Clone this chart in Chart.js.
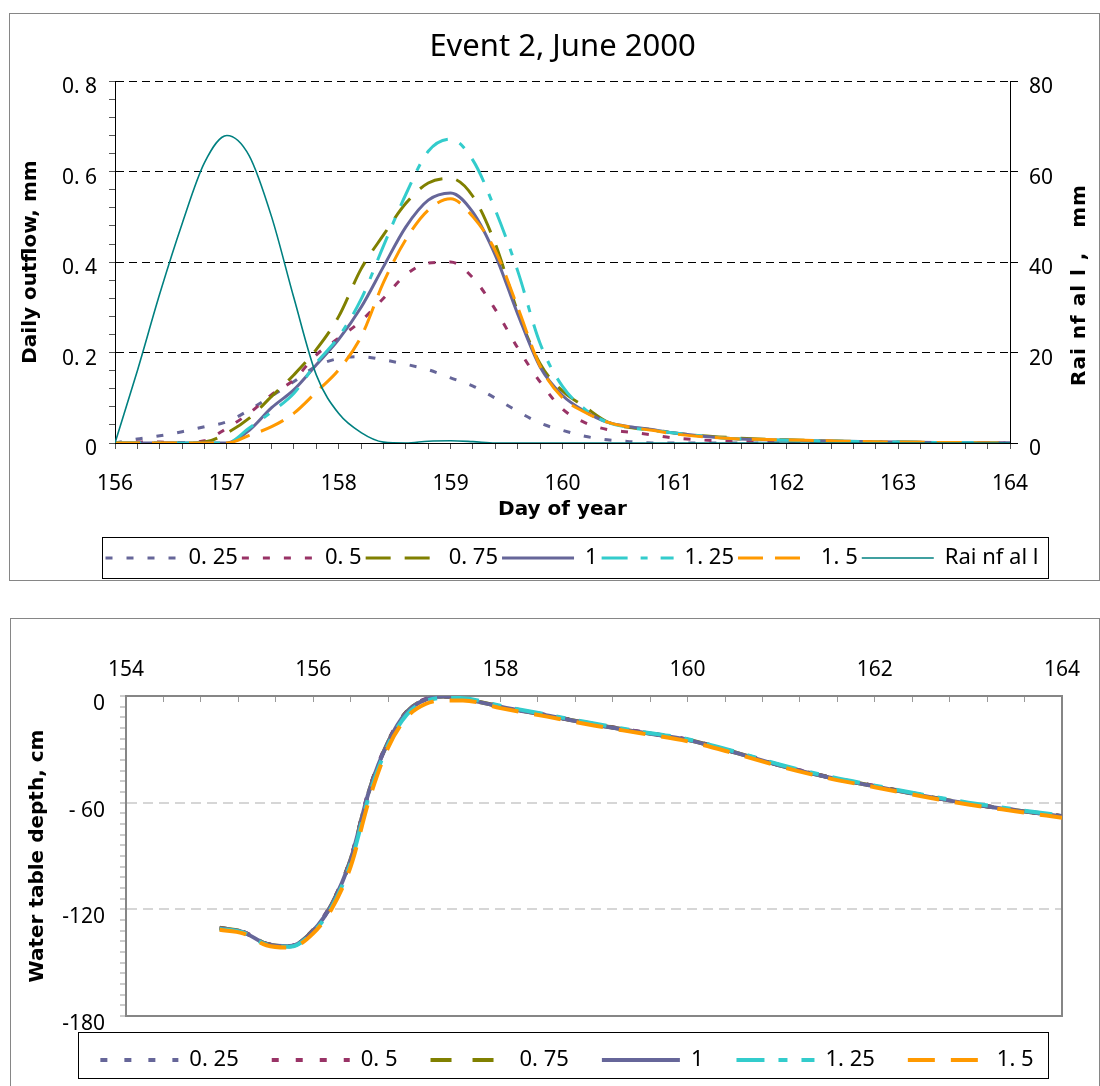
<!DOCTYPE html>
<html>
<head>
<meta charset="utf-8">
<script src="https://cdn.jsdelivr.net/npm/chart.js@4.4.1/dist/chart.umd.min.js"></script>
<style>
  html, body { margin: 0; padding: 0; background: #fff; }
  body { width: 1100px; height: 1086px; position: relative; overflow: hidden; }
  .frame { position: absolute; border: 1px solid #868686; box-sizing: border-box; }
  #frame1 { left: 9px; top: 13px; width: 1091px; height: 568px; }
  #frame2 { left: 10px; top: 618px; width: 1090px; height: 520px; }
  canvas { position: absolute; left: 0; }
  #outflowChart { top: 0; }
  #depthChart { top: 590px; }
</style>
</head>
<body>
<div class="frame" id="frame1"></div>
<div class="frame" id="frame2"></div>
<canvas id="outflowChart" width="1100" height="590"></canvas>
<canvas id="depthChart" width="1100" height="496"></canvas>
<script>
// Event 2, June 2000: daily outflow + rainfall (top), water table depth (bottom)

const seriesNames = ['0. 25', '0. 5', '0. 75', '1', '1. 25', '1. 5'];

// --- top chart data (day of year -> outflow mm, rainfall mm) ---
const days = [156, 156.2, 156.4, 156.6, 156.8, 157, 157.2, 157.4, 157.6, 157.8,
              158, 158.2, 158.4, 158.6, 158.8, 159, 159.2, 159.4, 159.6, 159.8,
              160, 160.2, 160.4, 160.6, 160.8, 161, 161.5, 162, 162.5, 163, 163.5, 164];

const out025 = [0, 0.009, 0.016, 0.025, 0.036, 0.047, 0.073, 0.104, 0.136, 0.17,
                0.187, 0.191, 0.184, 0.174, 0.162, 0.144, 0.126, 0.099, 0.07, 0.044,
                0.028, 0.015, 0.007, 0.003, 0, 0, 0, 0, 0, 0, 0, 0];
const out05 = [0, 0.002, 0.002, 0.001, 0.005, 0.033, 0.066, 0.107, 0.14, 0.195,
               0.232, 0.27, 0.32, 0.372, 0.398, 0.4, 0.365, 0.295, 0.21, 0.135,
               0.075, 0.045, 0.03, 0.024, 0.018, 0.011, 0.004, 0.001, 0, 0, 0, 0];
const out075 = [0, 0, 0, 0, 0.002, 0.022, 0.055, 0.103, 0.151, 0.207,
                0.28, 0.385, 0.46, 0.53, 0.575, 0.585, 0.545, 0.44, 0.29, 0.175,
                0.115, 0.08, 0.047, 0.034, 0.03, 0.022, 0.012, 0.007, 0.004, 0.002, 0.001, 0];
const out1 = [0, 0, 0, 0, 0, 0, 0.028, 0.078, 0.118, 0.173,
              0.229, 0.3, 0.39, 0.478, 0.537, 0.553, 0.51, 0.415, 0.285, 0.168,
              0.105, 0.07, 0.046, 0.036, 0.03, 0.022, 0.01, 0.006, 0.004, 0.002, 0.001, 0];
const out125 = [0, 0, 0, 0, 0, 0, 0.033, 0.069, 0.11, 0.177,
                0.235, 0.318, 0.436, 0.55, 0.645, 0.672, 0.625, 0.515, 0.38, 0.22,
                0.125, 0.075, 0.046, 0.034, 0.028, 0.022, 0.01, 0.006, 0.004, 0.002, 0.001, 0];
const out15 = [0, 0, 0, 0, 0, 0, 0.017, 0.036, 0.066, 0.113,
               0.162, 0.235, 0.355, 0.45, 0.515, 0.54, 0.5, 0.425, 0.3, 0.17,
               0.1, 0.068, 0.046, 0.035, 0.028, 0.02, 0.01, 0.007, 0.004, 0.002, 0.001, 0];
const rainfall = [0, 16, 33, 48.5, 62, 68, 63.5, 50, 32, 15,
                  6.5, 2.3, 0.2, 0, 0.4, 0.5, 0.3, 0, 0, 0,
                  0, 0, 0, 0, 0, 0, 0, 0, 0, 0, 0, 0];

const dayTicks = [156, 157, 158, 159, 160, 161, 162, 163, 164];
const outflowTicks = [0, 0.2, 0.4, 0.6, 0.8];
const outflowLabels = ['0', '0. 2', '0. 4', '0. 6', '0. 8'];
const rainTicks = [0, 20, 40, 60, 80];

// --- bottom chart data (day of year -> water table depth cm) ---
const wtDays = [155, 155.25, 155.5, 155.75, 156, 156.2, 156.4, 156.6, 156.8, 157, 157.2, 157.4, 157.6,
                158, 158.5, 159, 159.5, 160, 160.5, 161, 161.5, 162, 162.5, 163, 163.5, 164];

const wt025 = [-130.4, -132.6, -139.3, -140.6, -131.6, -116.5, -91.5, -52.5, -25.5, -8.7, -1.8, -0.2, -1.3,
               -5.8, -10.8, -15.8, -20.2, -24.5, -31.5, -39.1, -45.5, -50.6, -55.7, -60.4, -64.1, -67.5];
const wt05 = [-130.5, -132.7, -139.4, -140.7, -131.8, -116.8, -91.8, -52.8, -25.8, -8.8, -1.9, -0.25, -1.4,
              -5.9, -10.9, -15.9, -20.3, -24.6, -31.6, -39.2, -45.6, -50.7, -55.8, -60.5, -64.2, -67.6];
const wt075 = [-130.5, -132.7, -139.4, -140.7, -131.9, -116.9, -91.9, -52.9, -25.9, -8.9, -1.95, -0.28, -1.45,
               -5.95, -10.95, -15.95, -20.35, -24.65, -31.65, -39.25, -45.65, -50.75, -55.85, -60.55, -64.25, -67.65];
const wt1 = [-130.6, -132.8, -139.5, -140.8, -132, -117, -92, -53, -26, -9, -2, -0.3, -1.5,
             -6, -11, -16, -20.4, -24.7, -31.7, -39.3, -45.7, -50.8, -55.9, -60.6, -64.3, -67.7];
const wt125 = [-131, -133, -139.8, -141, -132.8, -118.5, -94, -55.5, -27.5, -10.5, -3, -1, -1.2,
               -5.5, -10.5, -15.5, -20, -24.3, -31.2, -38.8, -45.2, -50.4, -55.4, -60, -63.8, -67.2];
const wt15 = [-131.5, -133.5, -140.2, -141.5, -133.5, -119.5, -96, -58, -29, -12, -4.5, -2.5, -2.5,
              -6.8, -11.6, -16.6, -21, -25.5, -32.3, -39.8, -46.2, -51.3, -56.4, -61, -64.8, -68.5];

const wtDayTicks = [154, 156, 158, 160, 162, 164];
const depthTicks = [0, -60, -120, -180];
const depthLabels = ['0', '- 60', '-120', '-180'];

// --- styles ---
const colors = ['#666699', '#993366', '#808000', '#666699', '#33CCCC', '#FF9900'];
const topDash = [[7, 14], [7, 14], [25, 14], [], [26, 13, 7, 13], [25, 12]];
const bottomDash = [[7, 17], [7, 17], [21, 21], [], [28, 14, 9, 14], [27, 16]];
const tickFont = { family: 'Noto Sans', size: 21 };
const legendFont = { family: 'Noto Sans', size: 22 };
const axisTitleFont = { family: 'DejaVu Sans', size: 20, weight: 'bold' };

Chart.defaults.color = '#000';
Chart.defaults.font.family = 'Noto Sans';

function near(list, v) {
    return list.findIndex(t => Math.abs(t - v) < 1e-6);
}

function stepList(from, to, step) {
    const out = [];
    for (let i = 0; from + i * step <= to + 1e-9; i++) {
        out.push(Math.round((from + i * step) * 1000) / 1000);
    }
    return out;
}

function toPoints(xs, ys) {
    return xs.map((x, i) => ({ x: x, y: ys[i] }));
}

// box around the legend items
const legendFrame = {
    id: 'legendFrame',
    afterDraw(chart, args, opts) {
        const boxes = chart.legend && chart.legend.legendHitBoxes;
        if (!boxes || !boxes.length) return;
        const left = Math.min(...boxes.map(b => b.left)) - opts.left;
        const right = Math.max(...boxes.map(b => b.left + b.width)) + opts.right;
        const top = boxes[0].top - opts.top;
        const bottom = boxes[0].top + boxes[0].height + opts.bottom;
        const ctx = chart.ctx;
        ctx.save();
        ctx.strokeStyle = '#000';
        ctx.lineWidth = 1;
        ctx.strokeRect(Math.round(left) + 0.5, Math.round(top) + 0.5, Math.round(right - left), Math.round(bottom - top));
        ctx.restore();
    }
};

// secondary axis title, reading bottom to top like the left one
const sideTitle = {
    id: 'sideTitle',
    afterDraw(chart, args, opts) {
        const ctx = chart.ctx;
        ctx.save();
        ctx.translate(opts.x, opts.y);
        ctx.rotate(-Math.PI / 2);
        ctx.font = opts.font;
        ctx.letterSpacing = opts.spacing;
        ctx.fillStyle = '#000';
        ctx.textAlign = 'center';
        ctx.textBaseline = 'middle';
        ctx.fillText(opts.text, 0, 0);
        ctx.restore();
    }
};

// grey frame round the plot area
const plotFrame = {
    id: 'plotFrame',
    beforeDatasetsDraw(chart, args, opts) {
        const a = chart.chartArea;
        const ctx = chart.ctx;
        ctx.save();
        ctx.strokeStyle = opts.color;
        ctx.lineWidth = opts.width;
        ctx.strokeRect(a.left, a.top, a.right - a.left, a.bottom - a.top);
        ctx.restore();
    }
};

// legend samples: a short line drawn with the dataset's own dash
function legendLabels(width, padding) {
    return {
        usePointStyle: true,
        pointStyle: 'line',
        pointStyleWidth: width,
        padding: padding,
        color: '#000',
        font: legendFont,
        sort: (a, b) => a.datasetIndex - b.datasetIndex,
        generateLabels: chart => {
            const items = Chart.defaults.plugins.legend.labels.generateLabels(chart);
            items.forEach(item => {
                const ds = chart.data.datasets[item.datasetIndex];
                item.lineDash = ds.borderDash || [];
                item.lineWidth = ds.borderWidth;
                item.strokeStyle = ds.borderColor;
            });
            return items;
        }
    };
}

// ---------------- top chart ----------------
const outflowSets = [out025, out05, out075, out1, out125, out15].map((vals, i) => ({
    label: seriesNames[i],
    data: toPoints(days, vals),
    borderColor: colors[i],
    backgroundColor: colors[i],
    borderDash: topDash[i],
    borderWidth: 3,
    pointRadius: 0,
    cubicInterpolationMode: 'monotone',
    yAxisID: 'y',
    order: 10 - i
}));
outflowSets.push({
    label: 'Rai nf al l',
    data: toPoints(days, rainfall),
    borderColor: '#008080',
    backgroundColor: '#008080',
    borderWidth: 1.6,
    pointRadius: 0,
    cubicInterpolationMode: 'monotone',
    yAxisID: 'y2',
    order: 0
});

new Chart(document.getElementById('outflowChart'), {
    type: 'line',
    data: { datasets: outflowSets },
    plugins: [legendFrame, sideTitle],
    options: {
        responsive: false,
        animation: false,
        events: [],
        layout: { padding: { left: 44, right: 0, top: 15, bottom: 11 } },
        plugins: {
            title: {
                display: true,
                text: 'Event 2, June 2000',
                fullSize: false,
                color: '#000',
                font: { family: 'Noto Sans', size: 31, weight: 'normal' },
                padding: { top: 14, bottom: 15 }
            },
            legend: { position: 'bottom', labels: legendLabels(72, 4) },
            tooltip: { enabled: false },
            legendFrame: { left: 4, right: 9, top: 10, bottom: 9 },
            sideTitle: { x: 1080, y: 285, text: 'Rai nf al l ,   mm', font: 'bold 20px "DejaVu Sans"', spacing: '1px' }
        },
        scales: {
            x: {
                type: 'linear', position: 'bottom', min: 156, max: 164,
                afterBuildTicks: s => { s.ticks = stepList(156, 164, 0.2).map(v => ({ value: v })); },
                afterFit: s => { s.height = 100; },
                ticks: {
                    autoSkip: false, maxRotation: 0, padding: 22, font: tickFont,
                    callback: v => near(dayTicks, v) >= 0 ? String(Math.round(v)) : ''
                },
                grid: { drawOnChartArea: false, tickLength: 6, tickColor: '#555' },
                border: { color: '#000', width: 1 },
                title: { display: true, text: 'Day of year', font: axisTitleFont, padding: { top: 0, bottom: 21 } }
            },
            y: {
                type: 'linear', position: 'left', min: 0, max: 0.8,
                afterBuildTicks: s => { s.ticks = stepList(0, 0.8, 0.04).map(v => ({ value: v })); },
                afterFit: s => { s.width = 71; },
                ticks: {
                    autoSkip: false, padding: 12, labelOffset: 6, font: tickFont,
                    callback: v => { const k = near(outflowTicks, v); return k >= 0 ? outflowLabels[k] : ''; }
                },
                grid: {
                    color: c => (c.tick && c.tick.value > 0.01 && near(outflowTicks, c.tick.value) >= 0) ? '#000' : 'rgba(0,0,0,0)',
                    lineWidth: 1, tickLength: 6, tickColor: '#555', tickWidth: 1
                },
                border: { color: '#000', width: 1, dash: [8, 5] },
                title: { display: true, text: 'Daily outflow, mm', font: axisTitleFont, padding: { top: -25, bottom: 0 } }
            },
            y2: {
                type: 'linear', position: 'right', min: 0, max: 80,
                afterBuildTicks: s => { s.ticks = rainTicks.map(v => ({ value: v })); },
                afterFit: s => { s.width = 90; },
                ticks: { autoSkip: false, padding: 11, labelOffset: 6, font: tickFont },
                grid: { drawOnChartArea: false, tickLength: 8, tickColor: '#000' },
                border: { color: '#000', width: 1 }
            }
        }
    }
});

// ---------------- bottom chart ----------------
const depthSets = [wt025, wt05, wt075, wt1, wt125, wt15].map((vals, i) => ({
    label: seriesNames[i],
    data: toPoints(wtDays, vals),
    borderColor: colors[i],
    backgroundColor: colors[i],
    borderDash: bottomDash[i],
    borderWidth: 4,
    pointRadius: 0,
    cubicInterpolationMode: 'monotone',
    order: 10 - i
}));

new Chart(document.getElementById('depthChart'), {
    type: 'line',
    data: { datasets: depthSets },
    plugins: [legendFrame, plotFrame],
    options: {
        responsive: false,
        animation: false,
        events: [],
        layout: { padding: { left: 34, right: 0, top: 30, bottom: 5 } },
        plugins: {
            title: { display: false },
            legend: { position: 'bottom', labels: legendLabels(78, 33) },
            tooltip: { enabled: false },
            legendFrame: { left: 22, right: 15, top: 17, bottom: 7 },
            plotFrame: { color: '#868686', width: 2 }
        },
        scales: {
            x: {
                type: 'linear', position: 'top', min: 154, max: 164,
                afterBuildTicks: s => { s.ticks = stepList(154, 164, 0.4).map(v => ({ value: v })); },
                afterFit: s => { s.height = 76; },
                ticks: {
                    autoSkip: false, maxRotation: 0, padding: 19, font: tickFont,
                    callback: v => near(wtDayTicks, v) >= 0 ? String(Math.round(v)) : ''
                },
                grid: { drawOnChartArea: false, tickLength: -6, tickColor: '#999', tickWidth: 1 },
                border: { color: '#868686', width: 2 }
            },
            y: {
                type: 'linear', position: 'left', min: -180, max: 0,
                afterBuildTicks: s => { s.ticks = stepList(-180, 0, 6).map(v => ({ value: v })); },
                afterFit: s => { s.width = 92; },
                ticks: {
                    autoSkip: false, padding: 15, labelOffset: 8, font: tickFont,
                    callback: v => { const k = near(depthTicks, v); return k >= 0 ? depthLabels[k] : ''; }
                },
                grid: {
                    color: c => (c.tick && (near([-60, -120], c.tick.value) >= 0)) ? '#d6d6d6' : 'rgba(0,0,0,0)',
                    lineWidth: 2, tickLength: 6, tickColor: '#999', tickWidth: 1
                },
                border: { color: '#868686', width: 2, dash: [10, 6] },
                title: { display: true, text: 'Water table depth, cm', font: axisTitleFont, padding: { top: -8, bottom: 0 } }
            },
            yR: {
                type: 'linear', position: 'right', display: true,
                afterFit: s => { s.width = 38; },
                ticks: { display: false },
                grid: { display: false },
                border: { display: false }
            }
        }
    }
});
</script>
</body>
</html>
